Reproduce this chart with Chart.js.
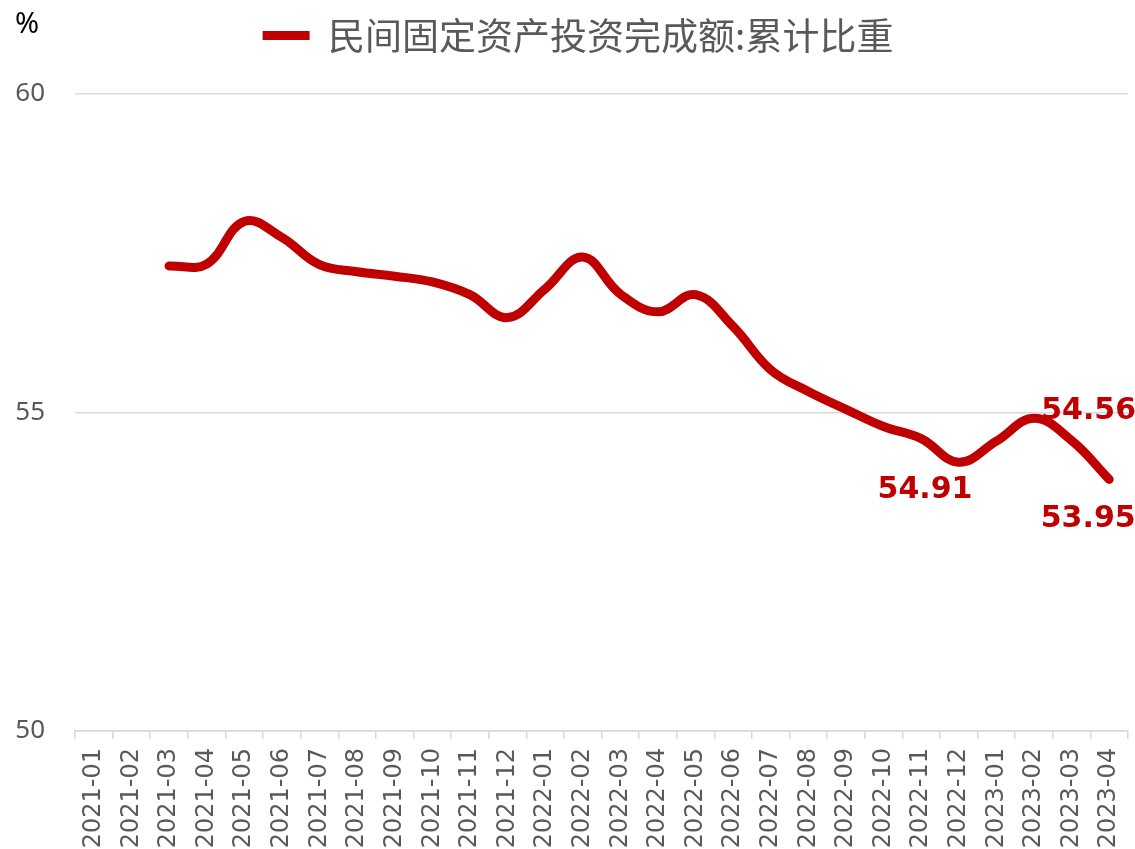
<!DOCTYPE html>
<html>
<head>
<meta charset="utf-8">
<script src="https://cdn.jsdelivr.net/npm/chart.js@4.4.0/dist/chart.umd.min.js"></script>
<style>
    html, body { margin: 0; padding: 0; background: #fff; overflow: hidden; }
    canvas { display: block; }
</style>
</head>
<body>
<canvas id="investChart" width="1135" height="849"></canvas>
<script>
// Data
const months = [
    '2021-01', '2021-02', '2021-03', '2021-04', '2021-05', '2021-06', '2021-07',
    '2021-08', '2021-09', '2021-10', '2021-11', '2021-12', '2022-01', '2022-02',
    '2022-03', '2022-04', '2022-05', '2022-06', '2022-07', '2022-08', '2022-09',
    '2022-10', '2022-11', '2022-12', '2023-01', '2023-02', '2023-03', '2023-04'
];
const shareValues = [
    null, null, 57.30, 57.33, 58.00, 57.75, 57.32,
    57.21, 57.14, 57.05, 56.85, 56.49, 56.94, 57.44,
    56.86, 56.58, 56.85, 56.35, 55.67, 55.33, 55.05,
    54.78, 54.59, 54.22, 54.55, 54.91, 54.56, 53.95
];
const yTicks = [50, 55, 60];
const labelledMonths = ['2023-02', '2023-03', '2023-04'];

const seriesName = '民间固定资产投资完成额:累计比重';
const red = '#c00000';
const grey = '#595959';
const gridGrey = '#d9d9d9';

// where each value label sits relative to its point (px)
const labelShift = {
    '2023-02': [-109, 72],
    '2023-03': [17, -29],
    '2023-04': [-21, 40]
};

const valueLabels = {
    id: 'valueLabels',
    afterDatasetsDraw(chart) {
        const meta = chart.getDatasetMeta(0);
        const ctx = chart.ctx;
        ctx.save();
        ctx.font = 'bold 30px "DejaVu Sans"';
        ctx.fillStyle = red;
        ctx.textAlign = 'center';
        ctx.textBaseline = 'middle';
        labelledMonths.forEach(m => {
            const i = months.indexOf(m);
            const pt = meta.data[i];
            const [dx, dy] = labelShift[m];
            ctx.fillText(shareValues[i].toFixed(2), pt.x + dx, pt.y + dy);
        });
        ctx.restore();
    }
};

// "%" unit in the top-left corner, and nudge the legend into place
const extras = {
    id: 'extras',
    afterUpdate(chart) {
        const lg = chart.legend;
        lg.top -= 30;
        lg.bottom -= 30;
        lg.left += 14;
        lg.right += 14;
    },
    afterDraw(chart) {
        const ctx = chart.ctx;
        ctx.save();
        ctx.font = '29px "Noto Sans"';
        ctx.fillStyle = '#000';
        ctx.textBaseline = 'middle';
        ctx.fillText('%', 15, 25);
        ctx.restore();
    }
};

const ctx = document.getElementById('investChart').getContext('2d');
new Chart(ctx, {
    type: 'line',
    data: {
        labels: months,
        datasets: [{
            label: seriesName,
            data: shareValues,
            borderColor: red,
            backgroundColor: red,
            borderWidth: 9,
            borderCapStyle: 'round',
            borderJoinStyle: 'round',
            pointRadius: 0,
            pointHoverRadius: 0,
            tension: 0.4,
            spanGaps: false
        }]
    },
    options: {
        responsive: false,
        devicePixelRatio: 1,
        animation: false,
        layout: { padding: { top: 37, right: 7, left: 0, bottom: 0 } },
        plugins: {
            tooltip: { enabled: false },
            legend: {
                position: 'top',
                labels: {
                    usePointStyle: true,
                    pointStyle: 'line',
                    pointStyleWidth: 47,
                    color: grey,
                    padding: 10,
                    font: { family: '"Noto Sans CJK SC"', size: 37 }
                }
            }
        },
        scales: {
            x: {
                offset: true,
                grid: {
                    offset: true,
                    drawOnChartArea: false,
                    drawTicks: true,
                    tickLength: 8,
                    color: gridGrey,
                    lineWidth: 1.5
                },
                border: { color: gridGrey, width: 1.5 },
                ticks: {
                    autoSkip: false,
                    minRotation: 90,
                    maxRotation: 90,
                    padding: 9,
                    color: grey,
                    font: { family: '"DejaVu Sans"', size: 24 }
                },
                afterFit(scale) {
                    scale.height = 849 - 731;
                    scale.paddingLeft = 0;
                    scale.paddingRight = 0;
                }
            },
            y: {
                min: 50,
                max: 60,
                afterBuildTicks(scale) { scale.ticks = yTicks.map(v => ({ value: v })); },
                grid: { color: gridGrey, lineWidth: 1.5, drawTicks: false },
                border: { display: false },
                ticks: {
                    padding: 30,
                    color: grey,
                    font: { family: '"Noto Sans"', size: 26 }
                },
                afterFit(scale) { scale.width = 75; }
            }
        }
    },
    plugins: [valueLabels, extras]
});
</script>
</body>
</html>
